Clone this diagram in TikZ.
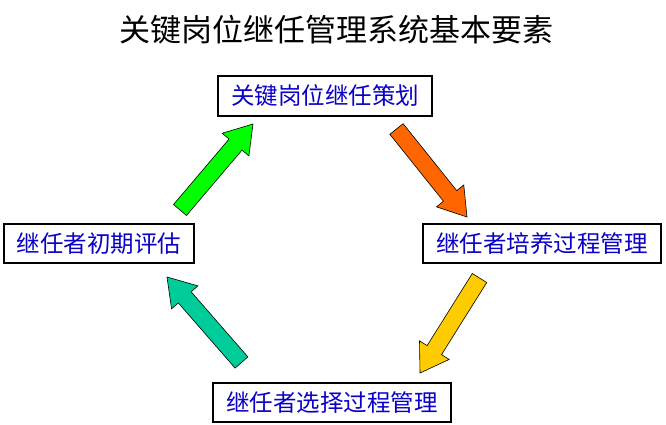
\documentclass[tikz,border=0pt]{standalone}
\usepackage{fontspec}
\newfontfamily\cjk{Noto Sans CJK SC}
\usetikzlibrary{calc}
\definecolor{txtblue}{RGB}{10,0,200}
\definecolor{agreen}{RGB}{0,255,0}
\definecolor{aorange}{RGB}{255,102,0}
\definecolor{ayellow}{RGB}{255,204,0}
\definecolor{ateal}{RGB}{0,204,153}
\newcommand\blockarrow[3]{%
  \coordinate (hb) at ($(#3)!27pt!(#2)$);
  \draw[fill=#1, line width=0.6pt, line join=miter]
    ($(#2)!8.5pt!90:(#3)$) -- ($(hb)!8.5pt!90:(#3)$) -- ($(hb)!17.5pt!90:(#3)$) --
    (#3) -- ($(hb)!17.5pt!-90:(#3)$) -- ($(hb)!8.5pt!-90:(#3)$) --
    ($(#2)!8.5pt!-90:(#3)$) -- cycle;
}
\begin{document}
\begin{tikzpicture}[x=1pt,y=-1pt,
  stagebox/.style={draw=black, line width=1.2pt, fill=white, inner sep=0pt,
    font=\cjk\fontsize{23.5}{26}\selectfont, text=txtblue, anchor=center}]
\useasboundingbox[fill=white] (0,0) rectangle (666,424);
\node[font=\cjk\fontsize{31}{34}\selectfont, text=black] (title) at (336,30) {关键岗位继任管理系统基本要素};
\node[stagebox, minimum width=214pt, minimum height=40pt] (plan) at (325,96) {关键岗位继任策划};
\node[stagebox, minimum width=238pt, minimum height=39pt] (train) at (542,243.5) {继任者培养过程管理};
\node[stagebox, minimum width=190pt, minimum height=39pt] (eval) at (99,243.5) {继任者初期评估};
\node[stagebox, minimum width=238pt, minimum height=39pt] (select) at (332,402.5) {继任者选择过程管理};
\coordinate (g1) at (180,210); \coordinate (g2) at (253,124);
\coordinate (o1) at (396.5,129); \coordinate (o2) at (467,217);
\coordinate (y1) at (479.5,278); \coordinate (y2) at (420,373);
\coordinate (t1) at (241.5,362.5); \coordinate (t2) at (167,277);
\blockarrow{agreen}{g1}{g2}
\blockarrow{aorange}{o1}{o2}
\blockarrow{ayellow}{y1}{y2}
\blockarrow{ateal}{t1}{t2}
\end{tikzpicture}
\end{document}
